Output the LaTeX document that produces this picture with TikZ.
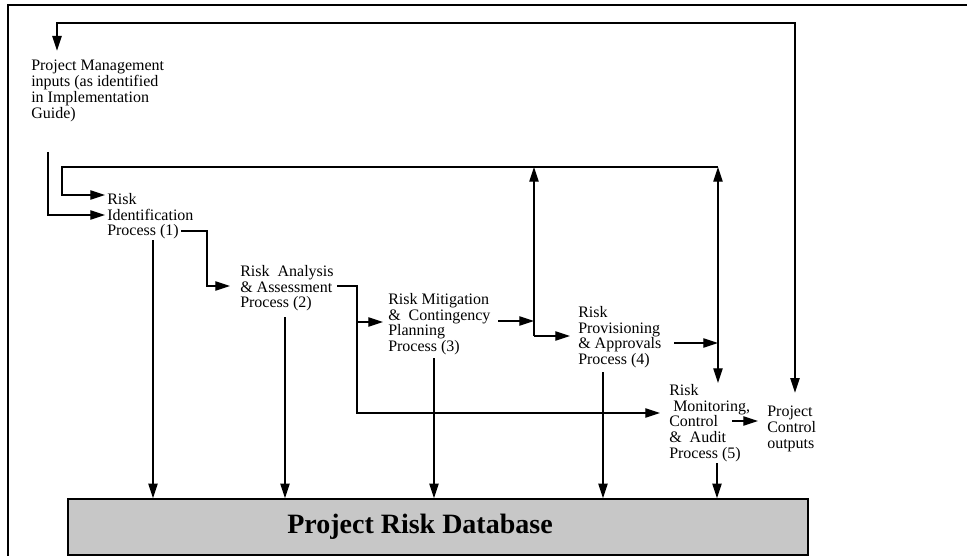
\documentclass[tikz,border=0pt]{standalone}
\usepackage{fontspec}
\setmainfont{Liberation Serif}
\usetikzlibrary{arrows.meta}
\tikzset{
  proc/.style={anchor=north west, inner sep=0pt, align=left, font=\fontsize{12}{11.8}\selectfont},
  flow/.style={->, line width=0.95pt},
  wire/.style={line width=0.95pt},
  dbbox/.style={draw, line width=1.2pt, fill=black!22, minimum width=555pt, minimum height=42pt, inner sep=0pt, font=\fontsize{21}{24}\selectfont\bfseries},
}
\begin{document}
\begin{tikzpicture}[x=0.75pt,y=-0.75pt,>={Triangle[length=11pt,width=7pt]}]
  \useasboundingbox (0,0) rectangle (967,556);
  \draw[line width=1.1pt] (967,5) -- (8,5) -- (8,556);

  % process texts
  \node[proc,font=\fontsize{12}{9.8}\selectfont] (pmi) at (31,60) {Project Management\\inputs (as identified\\in Implementation\\Guide)};
  \node[proc] (rid) at (107,193) {Risk\\Identification\\Process (1)};
  \node[proc] (raa) at (240,265) {Risk\ \ Analysis\\\&\ Assessment\\Process (2)};
  \node[proc] (rmc) at (388,293) {Risk Mitigation\\\&\ \ Contingency\\Planning\\Process (3)};
  \node[proc] (rpa) at (578,306) {Risk\\Provisioning\\\&\ Approvals\\Process (4)};
  \node[proc] (rmca) at (669,384) {Risk\\\hspace*{3pt}Monitoring,\\Control\\\&\ \ Audit\\Process (5)};
  \node[proc] (pco) at (767,406) {Project\\Control\\outputs};
  \node[dbbox] (db) at (438,527) {\hspace*{-27pt}Project Risk Database};

  % loop back to the inputs and outputs
  \coordinate (tl) at (57,23);
  \coordinate (tr) at (795,23);
  \draw[flow,shorten >=7pt] (tr) -- (tl) -- (tl |- pmi.north);
  \draw[flow,shorten >=10pt] (tl) -- (tr) -- (tr |- pco.north);

  % inputs into identification
  \coordinate (in0) at (48,152);
  \coordinate (in1) at (105,215);
  \draw[flow] (in0) |- (in1);

  % feedback from mitigation and provisioning
  \coordinate (fb) at (62,167);
  \coordinate (j3) at (534,167);
  \coordinate (j4) at (718,167);
  \coordinate (in2) at (105,195);
  \draw[flow] (j4) -- (fb) |- (in2);

  % identification -> analysis
  \coordinate (o1) at (181,231);
  \coordinate (c1) at (207,286);
  \coordinate (i2) at (230,286);
  \draw[flow] (o1) -| (c1) -- (i2);

  % analysis -> mitigation, and on to monitoring
  \coordinate (o2) at (337,286);
  \coordinate (c2) at (357,322);
  \coordinate (i3) at (383,322);
  \coordinate (i5) at (660,413);
  \draw[flow] (o2) -| (c2) -- (i3);
  \draw[flow] (c2) |- (i5);

  % mitigation -> provisioning
  \coordinate (o3) at (498,321);
  \coordinate (m3) at (534,321);
  \coordinate (m3b) at (534,336);
  \coordinate (i4) at (570,336);
  \draw[flow] (o3) -- (m3);
  \draw[flow] (m3b) -- (j3);
  \draw[flow] (m3b) -- (i4);

  % provisioning -> monitoring
  \coordinate (o4) at (674,343);
  \coordinate (m4) at (718,343);
  \coordinate (i6) at (718,383);
  \draw[flow] (o4) -- (m4);
  \draw[<->,wire] (j4) -- (i6);

  % monitoring -> outputs
  \coordinate (o5) at (732,421);
  \coordinate (i7) at (758,421);
  \draw[flow] (o5) -- (i7);

  % every process writes to the database
  \foreach \x/\y in {153/240,285/317,434/358,603/372,717/463}{
    \coordinate (d) at (\x,\y);
    \draw[flow] (d) -- (d |- db.north);
  }
\end{tikzpicture}
\end{document}
